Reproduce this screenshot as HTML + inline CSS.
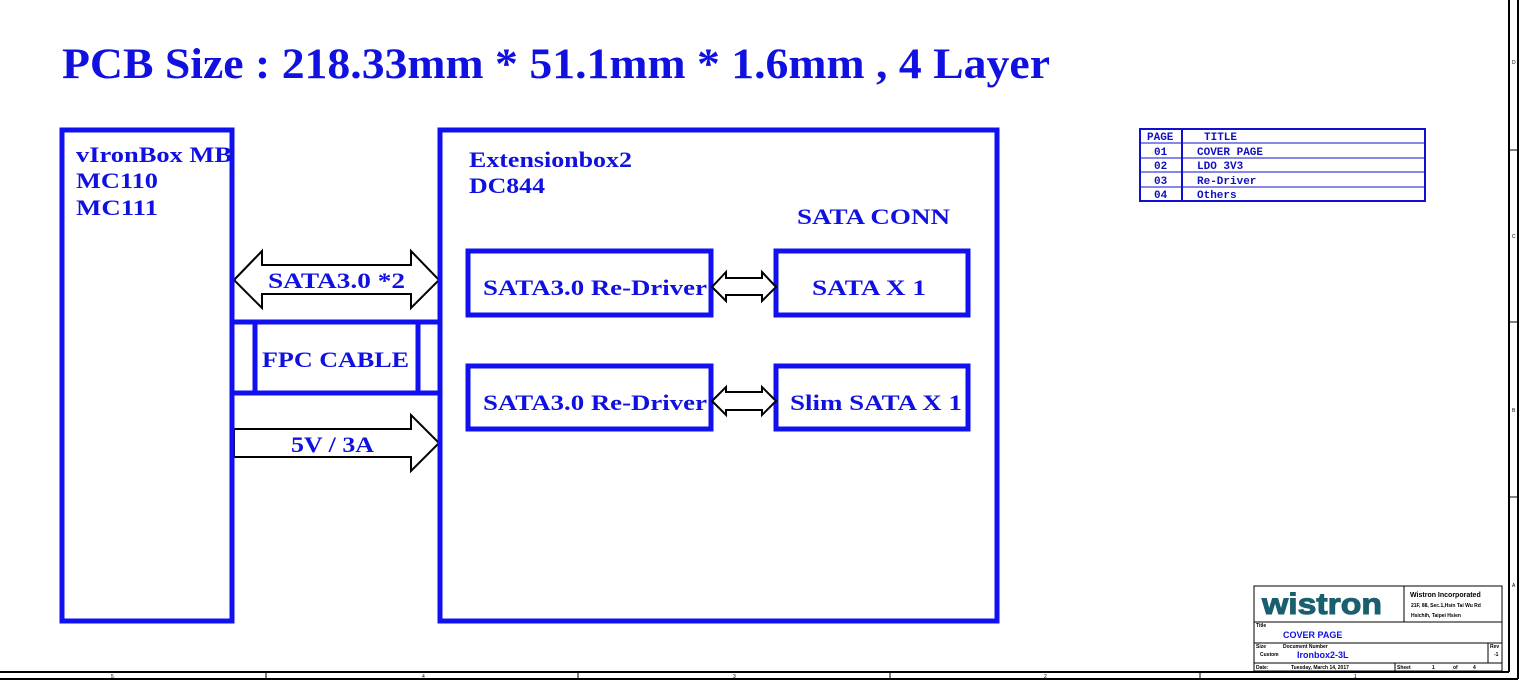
<!DOCTYPE html>
<html><head><meta charset="utf-8"><style>
html,body{margin:0;padding:0;background:#fff;}
svg{display:block;}
.b{font-family:"Liberation Serif",serif;font-weight:bold;fill:#1010e0;}
.m{font-family:"Liberation Mono",monospace;font-size:11px;fill:#1010c0;font-weight:bold;}
.s{font-family:"Liberation Sans",sans-serif;font-weight:bold;}
</style></head><body>
<svg width="1527" height="691" viewBox="0 0 1527 691" xmlns="http://www.w3.org/2000/svg">
<rect width="1527" height="691" fill="#fff"/>
<g stroke="#000" fill="none">
<line x1="0" y1="672" x2="1509" y2="672" stroke-width="2"/>
<line x1="0" y1="679" x2="1518" y2="679" stroke-width="2"/>
<line x1="1509" y1="0" x2="1509" y2="672" stroke-width="2"/>
<line x1="1518" y1="0" x2="1518" y2="679" stroke-width="2"/>
<line x1="266" y1="672" x2="266" y2="679"/><line x1="578" y1="672" x2="578" y2="679"/>
<line x1="890" y1="672" x2="890" y2="679"/><line x1="1200" y1="672" x2="1200" y2="679"/>
<line x1="1509" y1="150" x2="1518" y2="150"/><line x1="1509" y1="322" x2="1518" y2="322"/><line x1="1509" y1="497" x2="1518" y2="497"/>
</g>
<g font-family="Liberation Sans,sans-serif" font-size="5" fill="#000">
<text x="111" y="678">5</text><text x="422" y="678">4</text><text x="733" y="678">3</text><text x="1044" y="678">2</text><text x="1354" y="678">1</text>
<text x="1512" y="64">D</text><text x="1512" y="238">C</text><text x="1512" y="412">B</text><text x="1512" y="587">A</text>
</g>
<text x="62" y="78" class="b" font-size="43" textLength="988" lengthAdjust="spacingAndGlyphs">PCB Size : 218.33mm * 51.1mm * 1.6mm , 4 Layer</text>
<g stroke="#1010f0" stroke-width="5" fill="none">
<rect x="62" y="130" width="170" height="491"/>
<rect x="440" y="130" width="557" height="491"/>
<rect x="468" y="251" width="243" height="64"/>
<rect x="776" y="251" width="192" height="64"/>
<rect x="468" y="366" width="243" height="63"/>
<rect x="776" y="366" width="192" height="63"/>
<line x1="232" y1="322" x2="440" y2="322"/>
<line x1="232" y1="393" x2="440" y2="393"/>
<line x1="255" y1="322" x2="255" y2="393"/>
<line x1="418" y1="322" x2="418" y2="393"/>
</g>
<g stroke="#000" stroke-width="2" fill="#fff">
<polygon points="234,280 262,251 262,265 411,265 411,251 439,280 411,308 411,294 262,294 262,308"/>
<polygon points="234,429 411,429 411,415 439,443 411,471 411,457 234,457" />
<polygon points="712,287 726,272 726,278 762,278 762,272 776,287 762,301 762,295 726,295 726,301"/>
<polygon points="712,401 726,387 726,392 762,392 762,387 776,401 762,415 762,410 726,410 726,415"/>
</g>
<g stroke="#1010f0" stroke-width="5"><line x1="440" y1="250" x2="440" y2="480"/><line x1="232" y1="250" x2="232" y2="480"/></g>
<g class="b" font-size="22" lengthAdjust="spacingAndGlyphs">
<text x="76" y="162" textLength="156" lengthAdjust="spacingAndGlyphs">vIronBox MB</text>
<text x="76" y="188" textLength="82" lengthAdjust="spacingAndGlyphs">MC110</text>
<text x="76" y="215" textLength="82" lengthAdjust="spacingAndGlyphs">MC111</text>
<text x="469" y="167" textLength="163" lengthAdjust="spacingAndGlyphs">Extensionbox2</text>
<text x="469" y="193" textLength="76" lengthAdjust="spacingAndGlyphs">DC844</text>
<text x="797" y="224" textLength="153" lengthAdjust="spacingAndGlyphs">SATA CONN</text>
<text x="268" y="288" textLength="137" lengthAdjust="spacingAndGlyphs">SATA3.0 *2</text>
<text x="262" y="367" textLength="147" lengthAdjust="spacingAndGlyphs">FPC CABLE</text>
<text x="291" y="452" textLength="83" lengthAdjust="spacingAndGlyphs">5V / 3A</text>
<text x="483" y="295" textLength="224" lengthAdjust="spacingAndGlyphs">SATA3.0 Re-Driver</text>
<text x="812" y="295" textLength="114" lengthAdjust="spacingAndGlyphs">SATA X 1</text>
<text x="483" y="410" textLength="224" lengthAdjust="spacingAndGlyphs">SATA3.0 Re-Driver</text>
<text x="790" y="410" textLength="172" lengthAdjust="spacingAndGlyphs">Slim SATA X 1</text>
</g>
<g stroke="#1010d0" fill="none">
<rect x="1140" y="129" width="285" height="72" stroke-width="2"/>
<line x1="1182" y1="129" x2="1182" y2="201" stroke-width="2"/>
<line x1="1140" y1="143" x2="1425" y2="143"/><line x1="1140" y1="158" x2="1425" y2="158"/>
<line x1="1140" y1="172" x2="1425" y2="172"/><line x1="1140" y1="187" x2="1425" y2="187"/>
</g>
<g class="m">
<text x="1147" y="140">PAGE</text><text x="1204" y="140">TITLE</text>
<text x="1154" y="155">01</text><text x="1197" y="155">COVER PAGE</text>
<text x="1154" y="169">02</text><text x="1197" y="169">LDO 3V3</text>
<text x="1154" y="184">03</text><text x="1197" y="184">Re-Driver</text>
<text x="1154" y="198">04</text><text x="1197" y="198">Others</text>
</g>
<g stroke="#000" fill="none" stroke-width="1">
<rect x="1254" y="586" width="248" height="85"/>
<line x1="1254" y1="622" x2="1502" y2="622"/>
<line x1="1254" y1="643" x2="1502" y2="643"/>
<line x1="1254" y1="663" x2="1502" y2="663"/>
<line x1="1404" y1="586" x2="1404" y2="622"/>
<line x1="1488" y1="643" x2="1488" y2="663"/>
<line x1="1395" y1="663" x2="1395" y2="671"/>
</g>
<text x="1262" y="614" class="s" font-size="30" fill="#1a5f6e" textLength="120" lengthAdjust="spacingAndGlyphs" stroke="#1a5f6e" stroke-width="1">wistron</text>
<g class="s" fill="#000">
<text x="1410" y="597" font-size="7">Wistron Incorporated</text>
<text x="1411" y="607" font-size="5">21F, 88, Sec.1,Hsin Tai Wu Rd</text>
<text x="1411" y="617" font-size="5">Hsichih, Taipei Hsien</text>
<text x="1256" y="627" font-size="5">Title</text>
<text x="1256" y="648" font-size="5">Size</text>
<text x="1283" y="648" font-size="5">Document Number</text>
<text x="1260" y="656" font-size="5">Custom</text>
<text x="1490" y="648" font-size="5">Rev</text>
<text x="1494" y="656" font-size="5">-1</text>
<text x="1256" y="669" font-size="5">Date:</text>
<text x="1291" y="669" font-size="5">Tuesday, March 14, 2017</text>
<text x="1397" y="669" font-size="5">Sheet</text>
<text x="1432" y="669" font-size="5">1</text>
<text x="1453" y="669" font-size="5">of</text>
<text x="1473" y="669" font-size="5">4</text>
</g>
<text x="1283" y="638" class="s" font-size="9" fill="#1010e0">COVER PAGE</text>
<text x="1297" y="658" class="s" font-size="9" fill="#1010e0">Ironbox2-3L</text>
</svg>
</body></html>
